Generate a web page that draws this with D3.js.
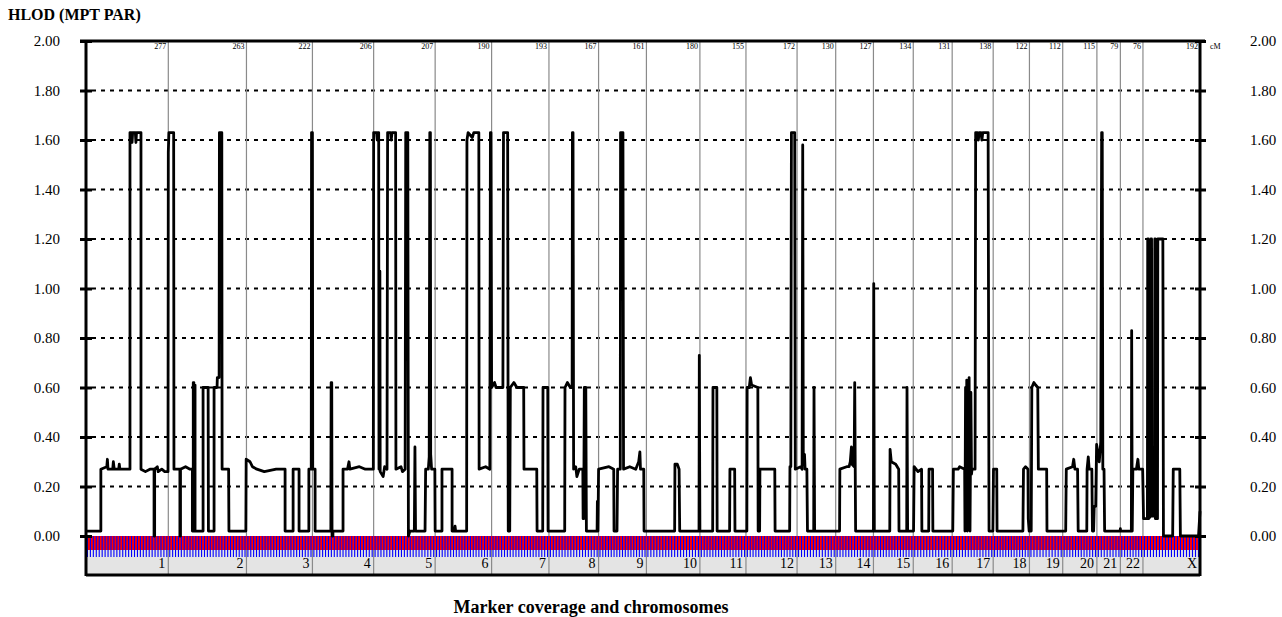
<!DOCTYPE html>
<html>
<head>
<meta charset="utf-8">
<script src="https://cdn.jsdelivr.net/npm/d3@7"></script>
<style>
body { margin: 0; background: #fff; }
text { font-family: "Liberation Serif", "Times New Roman", serif; fill: #000; }
</style>
</head>
<body>
<div id="content"></div>
<script>
// chromosome map (cM lengths as printed on top of each band)
var chromosomes = ['1','2','3','4','5','6','7','8','9','10','11','12','13','14','15','16','17','18','19','20','21','22','X'];
var chrLengths = [277,263,222,206,207,190,193,167,161,180,155,172,130,127,134,131,138,122,112,115,79,76,192];
var markerCounts = [28,27,23,21,21,20,20,17,17,18,16,18,13,13,14,13,14,13,11,12,8,8,19];
var yTicks = [0,0.2,0.4,0.6,0.8,1.0,1.2,1.4,1.6,1.8,2.0];

// HLOD along the genome: [cumulative cM, HLOD]
var hlodPoints = [
  // 1
  [0,0.02],[50,0.02],[50,0.27],[70,0.28],[72,0.31],[74,0.27],[90,0.27],[92,0.30],[95,0.27],[110,0.27],[112,0.29],[114,0.27],
  [148,0.27],[148,1.63],[153,1.63],[155,1.59],[157,1.63],[166,1.63],[168,1.59],[170,1.63],[185,1.63],[185,0.27],[200,0.26],
  [215,0.27],[229,0.27],[229,0.00],[231,0.00],[231,0.27],[240,0.28],[243,0.26],[255,0.27],[265,0.26],[276,0.26],
  // 2
  [277,1.55],[279,1.63],[295,1.63],[296,0.27],[316,0.27],[316,0.00],[318,0.00],[318,0.27],[335,0.28],[350,0.27],[358,0.27],
  [358,0.02],[361,0.02],[361,0.62],[363,0.62],[363,0.02],[365,0.02],[365,0.61],[367,0.61],[367,0.02],[394,0.02],[394,0.60],
  [411,0.60],[412,0.02],[431,0.02],[431,0.60],[441,0.60],[442,0.64],[448,0.64],[449,1.63],[457,1.63],[458,0.27],[480,0.27],
  [481,0.02],[538,0.02],
  // 3
  [539,0.31],[552,0.30],[560,0.28],[575,0.27],[600,0.26],[640,0.27],[670,0.27],[670,0.02],[697,0.02],[697,0.27],[717,0.27],
  [717,0.02],[750,0.02],[750,0.27],[758,0.27],[759,1.63],[762,1.63],
  // 4
  [763,0.27],[771,0.27],[771,0.02],[824,0.02],[825,0.62],[827,0.62],[828,0.00],[831,0.00],[831,0.02],[865,0.02],[865,0.27],
  [880,0.27],[885,0.30],[888,0.27],[920,0.28],[940,0.27],[967,0.27],
  // 5
  [968,1.63],[978,1.63],[980,1.60],[982,1.63],[985,1.63],[986,0.27],[988,0.27],[989,1.07],[990,0.26],[1000,0.24],[1005,0.28],
  [1013,0.27],[1015,1.63],[1025,1.63],[1027,1.60],[1030,1.63],[1042,1.63],[1043,0.27],[1060,0.28],[1065,0.26],[1074,0.27],
  [1076,1.63],[1083,1.63],[1085,0.00],[1090,0.02],[1105,0.02],[1107,0.36],[1109,0.02],[1141,0.02],[1143,0.27],[1152,0.27],
  [1155,0.32],[1157,1.63],[1159,1.63],[1160,0.33],[1163,0.27],[1174,0.27],[1175,0.02],
  // 6
  [1198,0.02],[1198,0.27],[1232,0.27],[1232,0.02],[1240,0.02],[1242,0.04],[1244,0.02],[1281,0.02],[1282,1.60],[1286,1.63],
  [1300,1.61],[1305,1.63],[1322,1.63],[1323,0.27],[1345,0.28],[1359,0.27],[1361,1.63],[1363,1.63],[1365,0.60],
  // 7
  [1375,0.62],[1380,0.60],[1403,0.60],[1405,1.63],[1419,1.63],[1421,0.02],[1426,0.02],[1428,0.60],[1440,0.62],[1450,0.60],
  [1473,0.60],[1474,0.27],[1517,0.27],[1518,0.02],[1537,0.02],[1538,0.60],[1554,0.60],[1555,0.02],
  // 8
  [1611,0.02],[1612,0.60],[1620,0.62],[1630,0.60],[1636,0.60],[1637,1.63],[1639,1.63],[1641,0.27],[1648,0.28],[1652,0.24],
  [1660,0.27],[1672,0.27],[1673,0.07],[1675,0.07],[1677,0.60],[1682,0.60],[1684,0.02],[1720,0.02],[1721,0.14],[1723,0.02],
  // 9
  [1725,0.27],[1760,0.28],[1776,0.27],[1777,0.02],[1787,0.02],[1789,0.27],[1798,0.27],[1799,1.63],[1807,1.63],[1809,0.27],
  [1830,0.28],[1850,0.27],[1860,0.30],[1864,0.34],[1866,0.27],[1877,0.27],[1878,0.02],
  // 10
  [1981,0.02],[1982,0.29],[1990,0.29],[1996,0.27],[1998,0.02],[2063,0.02],[2064,0.73],[2066,0.02],
  // 11
  [2109,0.02],[2110,0.60],[2123,0.60],[2124,0.02],[2166,0.02],[2167,0.27],[2183,0.27],[2184,0.02],[2224,0.02],
  // 12
  [2225,0.60],[2232,0.60],[2236,0.64],[2240,0.61],[2261,0.60],[2262,0.02],[2267,0.02],[2268,0.27],[2318,0.27],[2319,0.02],
  [2368,0.02],[2369,0.28],[2372,0.28],[2374,1.63],[2385,1.63],[2387,0.27],
  // 13
  [2405,0.28],[2410,0.27],[2412,1.58],[2414,0.30],[2418,0.33],[2420,0.27],[2426,0.27],[2428,0.02],[2449,0.02],[2450,0.60],
  [2452,0.02],
  // 14
  [2536,0.02],[2537,0.27],[2560,0.28],[2568,0.28],[2572,0.30],[2576,0.36],[2578,0.29],[2585,0.28],[2587,0.62],[2590,0.02],
  [2650,0.02],[2651,1.02],[2653,0.02],
  // 15
  [2705,0.02],[2706,0.35],[2710,0.30],[2725,0.29],[2735,0.27],[2736,0.02],[2762,0.02],[2763,0.60],[2765,0.02],[2785,0.02],
  [2787,0.28],
  // 16
  [2800,0.26],[2812,0.27],[2813,0.02],[2836,0.02],[2837,0.27],[2849,0.27],[2850,0.02],[2917,0.02],
  // 17
  [2919,0.27],[2935,0.27],[2940,0.28],[2957,0.27],[2958,0.02],[2960,0.60],[2962,0.05],[2964,0.63],[2966,0.02],[2968,0.59],
  [2970,0.10],[2972,0.64],[2975,0.02],[2978,0.58],[2980,0.25],[2982,0.27],[2992,0.27],[2994,1.63],[3000,1.63],[3003,1.60],
  [3006,1.63],[3012,1.63],[3015,1.60],[3018,1.63],[3036,1.63],[3039,0.02],[3052,0.02],
  // 18
  [3054,0.27],[3065,0.27],[3066,0.02],[3153,0.02],[3155,0.27],[3162,0.28],[3170,0.27],[3171,0.07],[3174,0.02],[3181,0.02],
  // 19
  [3183,0.60],[3190,0.62],[3196,0.61],[3203,0.60],[3205,0.27],[3233,0.27],[3234,0.02],[3297,0.02],
  // 20
  [3299,0.27],[3320,0.28],[3324,0.31],[3328,0.27],[3337,0.27],[3339,0.02],[3368,0.02],[3369,0.27],[3373,0.32],[3376,0.27],
  [3385,0.27],[3387,0.02],[3391,0.02],[3393,0.12],[3398,0.12],[3401,0.37],
  // 21
  [3410,0.30],[3415,0.38],[3418,1.63],[3420,1.63],[3422,0.27],[3426,0.27],[3428,0.02],[3480,0.02],[3481,0.03],[3482,0.02],
  // 22
  [3518,0.02],[3519,0.83],[3521,0.02],[3523,0.27],[3535,0.27],[3540,0.31],[3543,0.27],[3556,0.27],[3559,0.07],
  // X
  [3572,0.07],[3573,1.20],[3575,1.20],[3576,0.07],[3583,0.08],[3584,1.20],[3586,1.20],[3587,0.08],[3596,0.08],[3597,1.20],
  [3598,1.20],[3599,0.07],[3606,0.07],[3607,1.20],[3624,1.20],[3626,0.00],
  [3657,0.00],[3659,0.27],[3681,0.27],[3683,0.00],[3744,0.00],[3749,0.10]
];

var W = 1282, H = 617;
var plotLeft = 86, plotRight = 1200, plotTop = 41, zeroY = 536, bandBottom = 550, stripBottom = 575;

var svg = d3.select('#content').append('svg')
    .attr('width', W)
    .attr('height', H);

// chromosome start positions along the genome
var starts = [], acc = 0;
chrLengths.forEach(function(l) { starts.push(acc); acc += l; });
var total = acc;

var x = d3.scaleLinear().domain([0, total]).range([plotLeft, plotRight]);
var y = d3.scaleLinear().domain([0, 2]).range([zeroY, plotTop]);

// grey strip under the marker band
svg.append('rect')
    .attr('x', plotLeft).attr('y', bandBottom)
    .attr('width', plotRight - plotLeft).attr('height', stripBottom - bandBottom)
    .attr('fill', '#e4e4e4');

// dashed grid
svg.selectAll('.grid')
    .data(yTicks.filter(function(d) { return d > 0 && d < 2; }))
    .enter().append('line')
    .attr('x1', plotLeft + 6).attr('x2', plotRight - 4)
    .attr('y1', function(d) { return y(d); })
    .attr('y2', function(d) { return y(d); })
    .attr('stroke', '#000').attr('stroke-width', 2)
    .attr('stroke-dasharray', '4,5');

// chromosome boundaries
svg.selectAll('.chrline')
    .data(chrLengths.slice(0, -1))
    .enter().append('line')
    .attr('x1', function(d, i) { return x(starts[i] + d); })
    .attr('x2', function(d, i) { return x(starts[i] + d); })
    .attr('y1', plotTop).attr('y2', stripBottom)
    .attr('stroke', '#8a8a8a').attr('stroke-width', 1.2);

// marker band
svg.append('rect')
    .attr('x', plotLeft).attr('y', zeroY)
    .attr('width', plotRight - plotLeft).attr('height', bandBottom - zeroY)
    .attr('fill', '#ff0000');

var markers = [];
chrLengths.forEach(function(l, i) {
    var n = markerCounts[i];
    for (var j = 0; j < n; j++) markers.push(starts[i] + (j + 0.5) * l / n);
});
svg.selectAll('.marker')
    .data(markers)
    .enter().append('line')
    .attr('x1', function(d) { return x(d); })
    .attr('x2', function(d) { return x(d); })
    .attr('y1', zeroY).attr('y2', bandBottom + 7)
    .attr('stroke', '#0000ff').attr('stroke-width', 1.1);

// cM lengths on top
svg.selectAll('.cm')
    .data(chrLengths)
    .enter().append('text')
    .attr('x', function(d, i) { return x(starts[i] + d) - 2; })
    .attr('y', 49)
    .attr('text-anchor', 'end')
    .attr('font-size', 8)
    .text(function(d) { return d; });
svg.append('text')
    .attr('x', plotRight + 10).attr('y', 49)
    .attr('font-size', 8)
    .text('cM');

// chromosome names in the strip
svg.selectAll('.chrname')
    .data(chromosomes)
    .enter().append('text')
    .attr('x', function(d, i) { return x(starts[i] + chrLengths[i]) - 3; })
    .attr('y', 568)
    .attr('text-anchor', 'end')
    .attr('font-size', 14)
    .text(function(d) { return d; });

// HLOD curve
var line = d3.line()
    .x(function(d) { return x(d[0]); })
    .y(function(d) { return y(d[1]); });
svg.append('path')
    .datum(hlodPoints)
    .attr('d', line)
    .attr('fill', 'none')
    .attr('stroke', '#000')
    .attr('stroke-width', 2.8)
    .attr('stroke-linejoin', 'round');

// axes
var fmt = d3.format('.2f');
var leftAxis = svg.append('g')
    .attr('transform', 'translate(' + (plotLeft + 6) + ',0)')
    .call(d3.axisLeft(y).tickValues(yTicks).tickSize(12).tickPadding(20).tickFormat(fmt));
var rightAxis = svg.append('g')
    .attr('transform', 'translate(' + (plotRight - 5) + ',0)')
    .call(d3.axisRight(y).tickValues(yTicks).tickSize(11).tickPadding(44).tickFormat(fmt));
[leftAxis, rightAxis].forEach(function(g) {
    g.select('.domain').remove();
    g.selectAll('.tick line').attr('stroke', '#000').attr('stroke-width', 3);
    g.selectAll('.tick text')
        .attr('font-size', 15)
        .attr('font-family', '"Liberation Serif", "Times New Roman", serif');
});

// frame
svg.append('line').attr('x1', plotLeft - 6).attr('x2', plotRight + 5).attr('y1', plotTop).attr('y2', plotTop)
    .attr('stroke', '#000').attr('stroke-width', 3);
svg.append('line').attr('x1', plotLeft).attr('x2', plotLeft).attr('y1', plotTop).attr('y2', stripBottom + 1)
    .attr('stroke', '#000').attr('stroke-width', 3);
svg.append('line').attr('x1', plotRight).attr('x2', plotRight).attr('y1', plotTop).attr('y2', stripBottom + 1)
    .attr('stroke', '#000').attr('stroke-width', 3);
svg.append('line').attr('x1', plotLeft).attr('x2', plotRight).attr('y1', stripBottom).attr('y2', stripBottom)
    .attr('stroke', '#000').attr('stroke-width', 3);

// titles
svg.append('text')
    .attr('x', 8).attr('y', 20)
    .attr('font-size', 16).attr('font-weight', 'bold')
    .text('HLOD (MPT PAR)');
svg.append('text')
    .attr('x', 591).attr('y', 613)
    .attr('text-anchor', 'middle')
    .attr('font-size', 18).attr('font-weight', 'bold')
    .text('Marker coverage and chromosomes');
</script>
</body>
</html>
